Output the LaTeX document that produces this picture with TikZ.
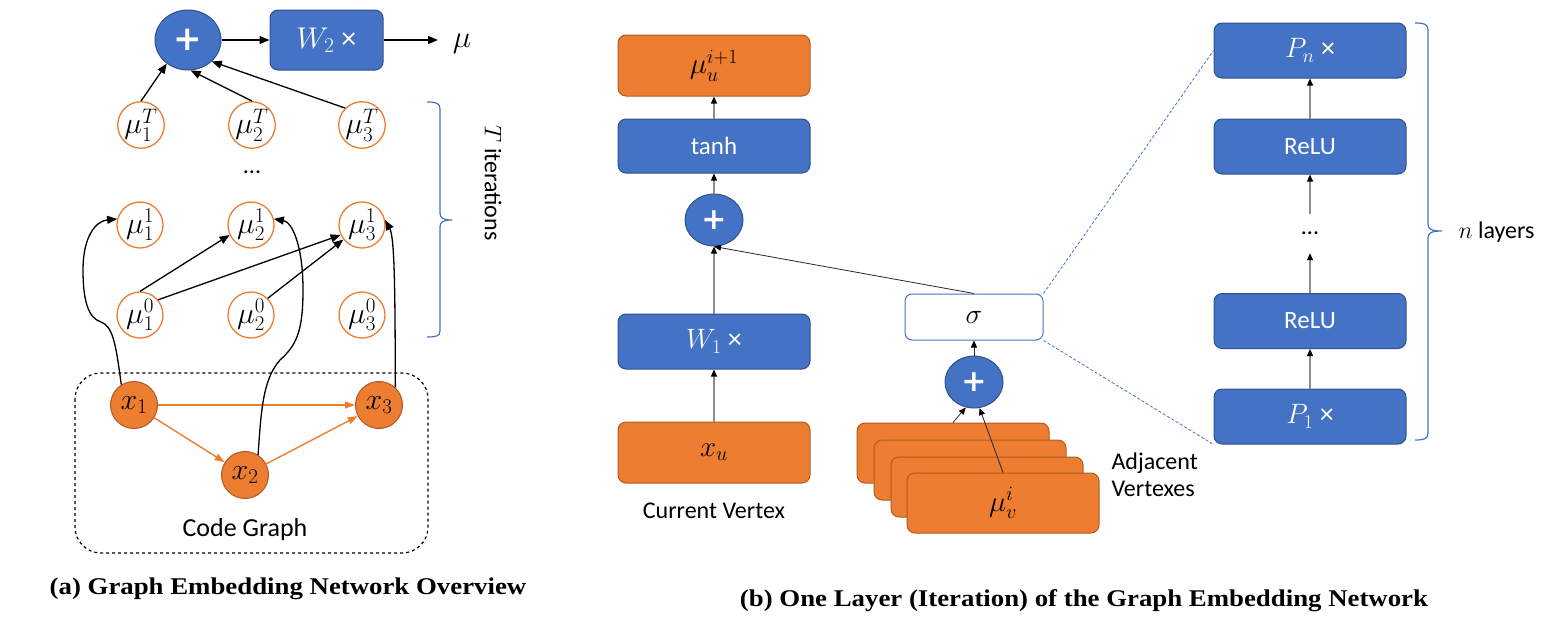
\RequirePackage{fix-cm}
\documentclass[tikz,border=0pt]{standalone}
\usepackage{fontspec}
\setmainfont{Carlito}
\newfontfamily\plusfont{DejaVu Sans}
\newfontfamily\capfont{Liberation Serif}
\usetikzlibrary{arrows.meta,shapes.geometric}
\definecolor{bfill}{HTML}{4472C4}
\definecolor{bdark}{HTML}{2F528F}
\definecolor{ofill}{HTML}{ED7D31}
\definecolor{odark}{HTML}{AE5A21}
\definecolor{lgray}{HTML}{8C8C8C}
\newcommand\myfs[1]{\fontsize{#1}{#1}\selectfont}
\tikzset{
  bluebox/.style={draw=bdark, fill=bfill, line width=1pt, rounded corners=8pt, minimum width=192pt, minimum height=55pt, inner sep=0pt, text=white, font=\myfs{25}},
  orangebox/.style={draw=odark, fill=ofill, line width=1pt, rounded corners=8pt, minimum width=192pt, minimum height=61pt, inner sep=0pt, font=\myfs{29}},
  mucirc/.style={circle, draw=ofill, line width=1.3pt, fill=white, minimum size=46pt, inner sep=0pt, font=\myfs{30}},
  xcirc/.style={circle, draw=odark, fill=ofill, line width=1pt, minimum size=47pt, inner sep=0pt, font=\myfs{30}},
  plusnode/.style={ellipse, draw=bdark, fill=bfill, line width=1pt, inner sep=0pt, text=white},
  blk/.style={draw=black, line width=1.3pt, -{Triangle[length=10pt,width=8pt]}},
  gry/.style={draw=lgray, line width=1.2pt, -{Triangle[length=7pt,width=6pt,color=black]}},
  thinblk/.style={draw=black!85, line width=0.8pt, -{Triangle[length=7pt,width=6pt,color=black]}},
  org/.style={draw=ofill, line width=1.4pt, -{Triangle[length=10pt,width=7pt]}},
  bracepath/.style={draw=bfill, line width=1.2pt},
  dashblue/.style={draw=bfill, line width=0.8pt, dash pattern=on 3pt off 2pt},
  captxt/.style={font=\capfont\bfseries\myfs{24}},
  lab/.style={font=\myfs{24}}
}
\begin{document}
\begin{tikzpicture}[x=1pt,y=-1pt]
\useasboundingbox (0,0) rectangle (1544,640);
% ---------- (a) ----------
\node[plusnode, minimum width=66pt, minimum height=60pt, font=\plusfont\bfseries\myfs{34}] (plusA) at (188,40) {+};
\node[bluebox, minimum width=113pt, minimum height=60pt, font=\myfs{30}] (W2) at (326.5,40) {$W_2$ ×};
\coordinate (muend) at (438,40);
\node[font=\myfs{31}] (mulab) at (462,44) {$\mu$};
\draw[blk] (plusA.east) -- (W2.west);
\draw[blk] (W2.east) -- (muend);

\node[mucirc] (muT1) at (141,125) {$\mu_1^T$};
\node[mucirc] (muT2) at (252,125) {$\mu_2^T$};
\node[mucirc] (muT3) at (362,125) {$\mu_3^T$};
\node[lab] (dotsA) at (252,172) {...};
\node[mucirc] (mu11) at (140,225) {$\mu_1^1$};
\node[mucirc] (mu12) at (251,225) {$\mu_2^1$};
\node[mucirc] (mu13) at (362,225) {$\mu_3^1$};
\node[mucirc] (mu01) at (140,315) {$\mu_1^0$};
\node[mucirc] (mu02) at (251,315) {$\mu_2^0$};
\node[mucirc] (mu03) at (362,315) {$\mu_3^0$};

\draw[blk] (muT1.north) -- (plusA.228);
\draw[blk] (muT2.north) -- (plusA.275);
\draw[blk] (muT3.north west) -- (plusA.318);

\draw[blk] (mu01.north) -- (mu12.205);
\draw[blk] (mu01.40) -- (mu13.205);
\draw[blk] (mu02.45) -- (mu13.218);

\draw[dashed, line width=1.2pt, rounded corners=26pt] (75,373) rectangle (428,553);
\node[lab, font=\myfs{26}] (cg) at (245,530) {Code Graph};

\node[xcirc] (x1) at (134,405) {$x_1$};
\node[xcirc] (x2) at (245,475) {$x_2$};
\node[xcirc] (x3) at (379,405) {$x_3$};
\draw[org] (x1.east) -- (x3.west);
\draw[org] (x1) -- (x2);
\draw[org] (x2) -- (x3);

\draw[blk] (x1.122) .. controls (116,345) and (113,326) .. (101,322) .. controls (88,318) and (83,300) .. (83,270) .. controls (83,236) and (96,221) .. (mu11.165);
\draw[blk] (x2.57) .. controls (261,415) and (262,380) .. (280,360) .. controls (297,345) and (303,330) .. (303,290) .. controls (303,245) and (292,222) .. (mu12.15);
\draw[blk] (x3.47) .. controls (395,300) and (395,238) .. (mu13.12);

\draw[bracepath] (427,102) .. controls (436,102) and (440,103) .. (440,109) -- (440,213) .. controls (440,218) and (443,220) .. (452,220) .. controls (443,220) and (440,222) .. (440,227) -- (440,331) .. controls (440,336) and (436,337) .. (427,337);
\node[lab, rotate=-90] (titer) at (493,183) {$T$ iterations};

\node[captxt] (capA) at (288,589) {\scalebox{1.117}[1]{(a) Graph Embedding Network Overview}};

% ---------- (b) ----------
\node[orangebox] (out) at (714,65.5) {$\mu_u^{i+1}$};
\node[bluebox, minimum height=54pt] (tanh) at (714,146) {tanh};
\node[plusnode, minimum width=58pt, minimum height=52pt, font=\plusfont\bfseries\myfs{30}] (plusB) at (714,220) {+};
\node[bluebox, font=\myfs{28}] (W1) at (714,341.5) {$W_1$ ×};
\node[orangebox] (xu) at (714,452.5) {$x_u$};
\node[lab] (cv) at (714,511) {Current Vertex};

\node[draw=bfill, fill=white, line width=1pt, rounded corners=7pt, minimum width=138pt, minimum height=46pt, inner sep=0pt, font=\myfs{28}] (sigma) at (974,317) {$\sigma$};
\node[plusnode, minimum width=58pt, minimum height=52pt, font=\plusfont\bfseries\myfs{30}] (plusC) at (974,382) {+};

\node[orangebox, minimum height=60pt] (adj1) at (953,453) {};
\node[orangebox, minimum height=60pt] (adj2) at (970,470) {};
\node[orangebox, minimum height=60pt] (adj3) at (987,487) {};
\node[orangebox, minimum height=60pt] (adj4) at (1003,503) {$\mu_v^i$};
\node[lab, align=left, anchor=west, font=\fontsize{24}{27}\selectfont] (adjlab) at (1108,475) {Adjacent\\Vertexes};

\draw[gry] (xu.north) -- (W1.south);
\draw[gry] (W1.north) -- (plusB.south);
\draw[gry] (plusB.north) -- (tanh.south);
\draw[gry] (tanh.north) -- (out.south);
\draw[thinblk] (sigma.north) -- (plusB.south);
\draw[thinblk] (plusC.north) -- (sigma.south);
\draw[thinblk] (adj1.north) -- (plusC.252);
\draw[thinblk] (adj4.north) -- (plusC.282);

\node[bluebox, font=\myfs{28}] (Pn) at (1310,50.5) {$P_n$ ×};
\node[bluebox] (R2) at (1310,146.5) {ReLU};
\node[lab, minimum height=39pt, inner sep=0pt] (dotsB) at (1310,233.5) {...};
\node[bluebox] (R1) at (1310,321) {ReLU};
\node[bluebox, font=\myfs{28}] (P1) at (1310,416.5) {$P_1$ ×};
\draw[gry] (P1.north) -- (R1.south);
\draw[gry] (R1.north) -- (dotsB.south);
\draw[gry] (dotsB.north) -- (R2.south);
\draw[gry] (R2.north) -- (Pn.south);

\draw[dashblue] (sigma.north east) -- (Pn.west);
\draw[dashblue] (sigma.south east) -- (P1.south west);

\draw[bracepath] (1415,23) .. controls (1424,23) and (1428,24) .. (1428,30) -- (1428,224) .. controls (1428,229) and (1431,231) .. (1442,231) .. controls (1431,231) and (1428,233) .. (1428,238) -- (1428,433) .. controls (1428,439) and (1424,440) .. (1415,440);
\node[lab, anchor=west] (nl) at (1455,232) {$n$ layers};

\node[captxt] (capB) at (1084,601) {\scalebox{1.117}[1]{(b) One Layer (Iteration) of the Graph Embedding Network}};
\end{tikzpicture}
\end{document}
